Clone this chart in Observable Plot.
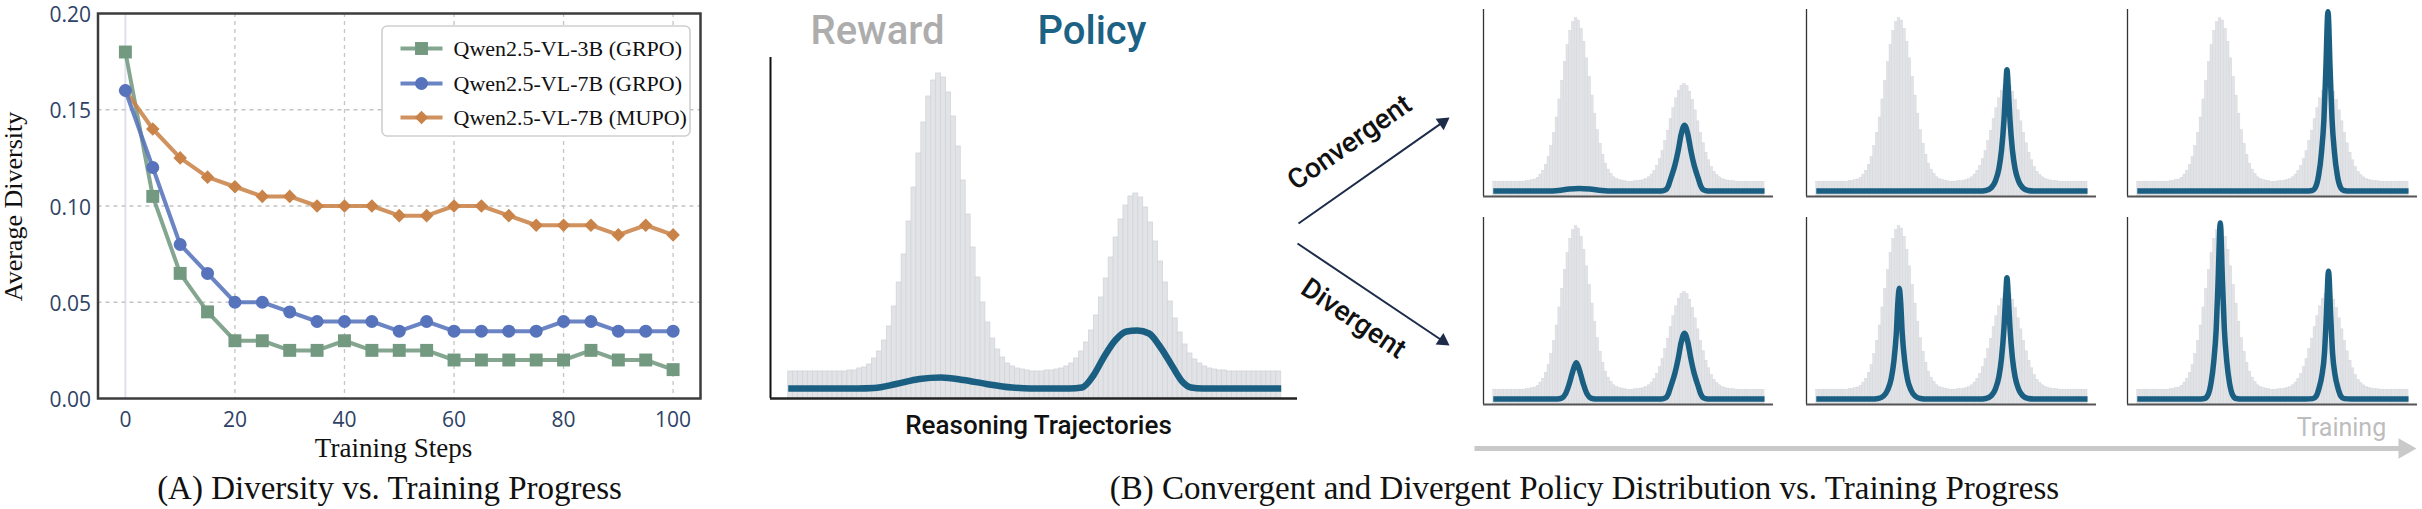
<!DOCTYPE html>
<html><head><meta charset="utf-8">
<script src="https://cdn.jsdelivr.net/npm/d3@7"></script>
<script src="https://cdn.jsdelivr.net/npm/@observablehq/plot@0.6"></script>
<style>
html,body{margin:0;padding:0;background:#fff;}
#fig{position:relative;width:2422px;height:509px;overflow:hidden;background:#fff;}
#fig svg{position:absolute;}
</style></head><body><div id="fig"></div>
<script>
// ---------- Panel A data ----------
const steps = [0,5,10,15,20,25,30,35,40,45,50,55,60,65,70,75,80,85,90,95,100];
const div3bGRPO = [0.18,0.105,0.065,0.045,0.03,0.03,0.025,0.025,0.03,0.025,0.025,0.025,0.02,0.02,0.02,0.02,0.02,0.025,0.02,0.02,0.015];
const div7bGRPO = [0.16,0.12,0.08,0.065,0.05,0.05,0.045,0.04,0.04,0.04,0.035,0.04,0.035,0.035,0.035,0.035,0.04,0.04,0.035,0.035,0.035];
const div7bMUPO = [0.16,0.14,0.125,0.115,0.11,0.105,0.105,0.10,0.10,0.10,0.095,0.095,0.10,0.10,0.095,0.09,0.09,0.09,0.085,0.09,0.085];
const seriesNames = ["Qwen2.5-VL-3B (GRPO)","Qwen2.5-VL-7B (GRPO)","Qwen2.5-VL-7B (MUPO)"];
const xTicks = [0,20,40,60,80,100];
const yTicks = [0,0.05,0.10,0.15,0.20];

// ---------- Panel B data ----------
// reward histogram bar heights (100 bins over reasoning trajectories)
const rewardBars = [27,27,27,27,27,27,27,27,27,27,27,27,
  28,28,30,31,34,40,47,58,72,92,116,144,177,211,245,276,302,318,325,321,306,282,252,218,184,151,121,96,76,60,49,41,35,32,30,29,28,
  27,27,27,
  28,28,29,30,32,35,40,47,56,68,83,101,120,141,161,179,193,202,205,201,191,176,157,137,116,97,80,66,54,45,39,35,32,30,29,28,28,
  27,27,27,27,27,27,27,27,27,27,27];
// policy density curves: [trajectory position, density]
const policyInitial = [[0,10],[14,10],[17.4,10.5],[21.9,14.5],[26.6,19.5],[31,21],[35.5,18.5],[40.2,14.5],[45.4,11],[49,10],[57,10],[59.6,11],[61.9,23],[64.1,42],[66.3,58],[68.6,67],[70.8,68],[73.2,65],[75.4,52],[77.7,34],[79.9,17],[81.7,11],[84,10],[100,10]];
const policyConv1 = [[0,10],[20,10],[24,11],[28,13.5],[31.7,14.5],[35.5,13.5],[40,11],[44,10],[62,10],[63.5,12],[64.5,19],[65.5,34],[66.9,56],[68.1,82],[69.3,114],[70.5,130],[71.7,114],[72.9,82],[74.1,56],[75.5,34],[76.5,19],[77.5,12],[79,10],[100,10]];
const policyConv2 = [[0,10],[60,10],[62.5,11],[64.5,16],[66,28],[67.3,50],[68.3,85],[69.2,140],[69.8,195],[70.3,231],[70.8,195],[71.4,140],[72.3,85],[73.3,50],[74.6,28],[76.1,16],[78.1,11],[80.6,10],[100,10]];
const policyConv3 = [[0,10],[62,10],[64.5,11],[65.8,18],[66.9,40],[67.9,80],[68.8,140],[69.5,230],[70.3,337],[71.1,230],[71.8,140],[72.7,80],[73.7,40],[74.8,18],[76.1,11],[78.6,10],[100,10]];
const policyDiv1 = [[0,10],[23.6,10],[25.2,11.5],[26.6,19],[27.9,36],[29.1,57],[30,71],[30.6,76],[31.2,71],[32.1,57],[33.3,36],[34.6,19],[36,11.5],[37.6,10],[62,10],[63.5,12],[64.5,19],[65.5,34],[66.9,56],[68.1,82],[69.3,114],[70.5,130],[71.7,114],[72.9,82],[74.1,56],[75.5,34],[76.5,19],[77.5,12],[79,10],[100,10]];
const policyDiv2 = [[0,10],[20.3,10],[22.8,11],[24.8,15.5],[26.3,26.5],[27.6,46.6],[28.6,78.6],[29.5,129],[30.1,187],[30.6,212],[31.1,187],[31.7,129],[32.6,78.6],[33.6,46.6],[34.9,26.5],[36.4,15.5],[38.4,11],[40.9,10],[60,10],[62.5,11],[64.5,16],[66,28],[67.3,50],[68.3,85],[69.2,140],[69.8,195],[70.3,231],[70.8,195],[71.4,140],[72.3,85],[73.3,50],[74.6,28],[76.1,16],[78.1,11],[80.6,10],[100,10]];
const policyDiv3 = [[0,10],[22.3,10],[24.8,11],[26.1,17.8],[27.2,39.4],[28.2,78.6],[29.1,137.6],[29.8,225.6],[30.6,331],[31.4,225.6],[32.1,137.6],[33,78.6],[34,39.4],[35.1,17.8],[36.4,11],[38.9,10],[62,10],[64.7,10.7],[66,15.7],[67.1,31.4],[68.1,54],[69,93],[69.7,161],[70.5,243],[71.3,161],[72,93],[72.9,54],[73.9,31.4],[75,15.7],[76.3,10.7],[79,10],[100,10]];

const fig = document.getElementById("fig");
function place(el, left, top, z) { el.style.left = left + "px"; el.style.top = top + "px"; if (z) el.style.zIndex = z; fig.appendChild(el); }

// ---------- Panel A chart ----------
const colors = ["#739a81","#5673bb","#c98348"];
const symbols = ["square","circle","diamond2"];
const radii = [7.3,6.5,6.1];
const seriesVals = [div3bGRPO, div7bGRPO, div7bMUPO];
const tidy = seriesVals.map((vals, k) => steps.map((s, i) => ({step: s, value: vals[i], k})));
const drawOrder = [0, 2, 1];
const seriesMarks = [];
for (const k of drawOrder) {
  seriesMarks.push(Plot.line(tidy[k], {x: "step", y: "value", stroke: colors[k], strokeWidth: 4, strokeOpacity: 0.88}));
  seriesMarks.push(Plot.dot(tidy[k], {x: "step", y: "value", symbol: symbols[k], r: radii[k], fill: colors[k], stroke: "none"}));
}
const chartA = Plot.plot({
  width: 712, height: 440, marginLeft: 97.5, marginRight: 12, marginTop: 13, marginBottom: 42,
  x: {domain: [-5, 105]}, y: {domain: [0, 0.2]},
  style: {fontFamily: "Open Sans", fontSize: "21px", color: "#2e4266", background: "transparent", overflow: "visible"},
  marks: [
    Plot.ruleX([0], {stroke: "#e0e0ee", strokeWidth: 2}),
    Plot.gridX(xTicks.filter(d => d > 0), {stroke: "#c4c4c4", strokeOpacity: 1, strokeWidth: 1.3, strokeDasharray: "4,4"}),
    Plot.gridY([0.05, 0.10, 0.15], {stroke: "#c4c4c4", strokeOpacity: 1, strokeWidth: 1.3, strokeDasharray: "4,4"}),
    Plot.axisX(xTicks, {tickSize: 0, tickPadding: 14, label: null}),
    Plot.axisY(yTicks, {tickSize: 0, tickPadding: 7, tickFormat: ".2f", label: null, dy: 2}),
    ...seriesMarks,
    Plot.frame({stroke: "#3c3c3c", strokeWidth: 2.5})
  ]
});
place(chartA, 0, 0, 1);

// ---------- Panel B distribution panels ----------
const rewardTable = rewardBars.map((v, i) => ({i, v}));
function distPanel(policy, left, top, w, h, lineW, barStroke, leftAxisColor, leftAxisW, bottomColor, bottomW) {
  const m = 6;
  const p = Plot.plot({
    width: w + 2 * m, height: h + 2 * m, marginLeft: m, marginRight: m, marginTop: m, marginBottom: m,
    x: {domain: [-3.6, 103.3], axis: null}, y: {domain: [0, 341], axis: null},
    style: {background: "transparent", overflow: "visible"},
    marks: [
      Plot.rect(rewardTable, {x1: d => d.i, x2: d => d.i + 1, y1: 0, y2: "v", fill: "#e2e3e7", stroke: "#d3d5d9", strokeWidth: barStroke}),
      Plot.line(policy, {x: d => d[0], y: d => d[1], curve: "monotone-x", stroke: "#1a5f82", strokeWidth: lineW, strokeLinecap: "butt", strokeLinejoin: "round"}),
      Plot.ruleX([-3.6], {stroke: leftAxisColor, strokeWidth: leftAxisW}),
      Plot.ruleY([0], {stroke: bottomColor, strokeWidth: bottomW})
    ]
  });
  place(p, left - m, top - m, 2);
}
distPanel(policyInitial, 770, 57, 527, 341, 6.5, 0.8, "#111", 2, "#222", 2.5);
const cols = [1483, 1806, 2127];
const rowsTop = [9, 217];
const smallPolicies = [[policyConv1, policyConv2, policyConv3], [policyDiv1, policyDiv2, policyDiv3]];
smallPolicies.forEach((row, r) => row.forEach((pol, c) => distPanel(pol, cols[c], rowsTop[r], 290, 187, 5.5, 0.45, "#333", 1.3, "#555", 2.2)));

// ---------- Overlay: legend, labels, arrows ----------
const legendY = [48, 83, 117];
const serif = "Liberation Serif, Times New Roman, serif";
const din = "Roboto, sans-serif";
function arrowParts(x1, y1, x2, y2) {
  const L = Math.hypot(x2 - x1, y2 - y1), ux = (x2 - x1) / L, uy = (y2 - y1) / L;
  const cx = x2 - 8 * ux, cy = y2 - 8 * uy;
  const ang = Math.atan2(uy, ux) * 180 / Math.PI + 90;
  return [
    Plot.link([0], {x1, y1, x2: cx, y2: cy, stroke: "#1c2b48", strokeWidth: 2}),
    Plot.dot([0], {x: cx, y: cy, symbol: "triangle", r: 5.2, fill: "#1c2b48", rotate: ang})
  ];
}
const legendMarks = [Plot.rect([0], {x1: 382, x2: 690, y1: 26, y2: 136, fill: "white", stroke: "#cfcfcf", strokeWidth: 1.6, rx: 5})];
seriesNames.forEach((name, k) => {
  legendMarks.push(Plot.link([0], {x1: 400, x2: 442, y1: legendY[k], y2: legendY[k], stroke: colors[k], strokeWidth: 4, strokeOpacity: 0.88}));
  legendMarks.push(Plot.dot([0], {x: 421, y: legendY[k], symbol: symbols[k], r: radii[k], fill: colors[k]}));
  legendMarks.push(Plot.text([name], {x: 453, y: legendY[k], text: d => d, textAnchor: "start", lineAnchor: "middle", fontFamily: serif, fontSize: 22, fill: "#111"}));
});
const overlay = Plot.plot({
  width: 2422, height: 509, margin: 0,
  x: {type: "identity", axis: null}, y: {type: "identity", axis: null},
  style: {background: "transparent", overflow: "visible"},
  marks: [
    ...legendMarks,
    Plot.text(["Average Diversity"], {x: 21, y: 206, text: d => d, rotate: -90, textAnchor: "middle", lineAnchor: "bottom", fontFamily: serif, fontSize: 26, fill: "#111"}),
    Plot.text(["Training Steps"], {x: 393, y: 456, text: d => d, textAnchor: "middle", lineAnchor: "bottom", fontFamily: serif, fontSize: 27, fill: "#111"}),
    Plot.text(["(A) Diversity vs. Training Progress"], {x: 389, y: 498, text: d => d, textAnchor: "middle", lineAnchor: "bottom", fontFamily: serif, fontSize: 33, fill: "#111"}),
    Plot.text(["(B) Convergent and Divergent Policy Distribution vs. Training Progress"], {x: 1584, y: 498, text: d => d, textAnchor: "middle", lineAnchor: "bottom", fontFamily: serif, fontSize: 33, fill: "#111"}),
    Plot.text(["Reward"], {x: 810, y: 43, text: d => d, textAnchor: "start", lineAnchor: "bottom", fontFamily: din, fontWeight: 500, fontSize: 40, fill: "#adadad"}),
    Plot.text(["Policy"], {x: 1037, y: 43, text: d => d, textAnchor: "start", lineAnchor: "bottom", fontFamily: din, fontWeight: 500, fontSize: 40, fill: "#1b6285"}),
    Plot.text(["Reasoning Trajectories"], {x: 1038, y: 433, text: d => d, textAnchor: "middle", lineAnchor: "bottom", fontFamily: din, fontWeight: 500, fontSize: 26, fill: "#111"}),
    Plot.text(["Convergent"], {x: 1349, y: 142, text: d => d, rotate: -35, textAnchor: "middle", lineAnchor: "middle", fontFamily: din, fontWeight: 500, fontSize: 28, fill: "#111"}),
    Plot.text(["Divergent"], {x: 1353, y: 318, text: d => d, rotate: 34, textAnchor: "middle", lineAnchor: "middle", fontFamily: din, fontWeight: 500, fontSize: 28, fill: "#111"}),
    ...arrowParts(1298, 223, 1449, 117),
    ...arrowParts(1297, 243, 1449, 345),
    Plot.link([0], {x1: 1474, y1: 448, x2: 2400, y2: 448, stroke: "#c9c9c9", strokeWidth: 5}),
    Plot.dot([0], {x: 2404, y: 448, symbol: "triangle", r: 7.7, fill: "#c9c9c9", rotate: 90}),
    Plot.text(["Training"], {x: 2341, y: 435, text: d => d, textAnchor: "middle", lineAnchor: "bottom", fontFamily: din, fontWeight: 400, fontSize: 25, fill: "#bdbdbd"})
  ]
});
place(overlay, 0, 0, 3);
</script></body></html>
